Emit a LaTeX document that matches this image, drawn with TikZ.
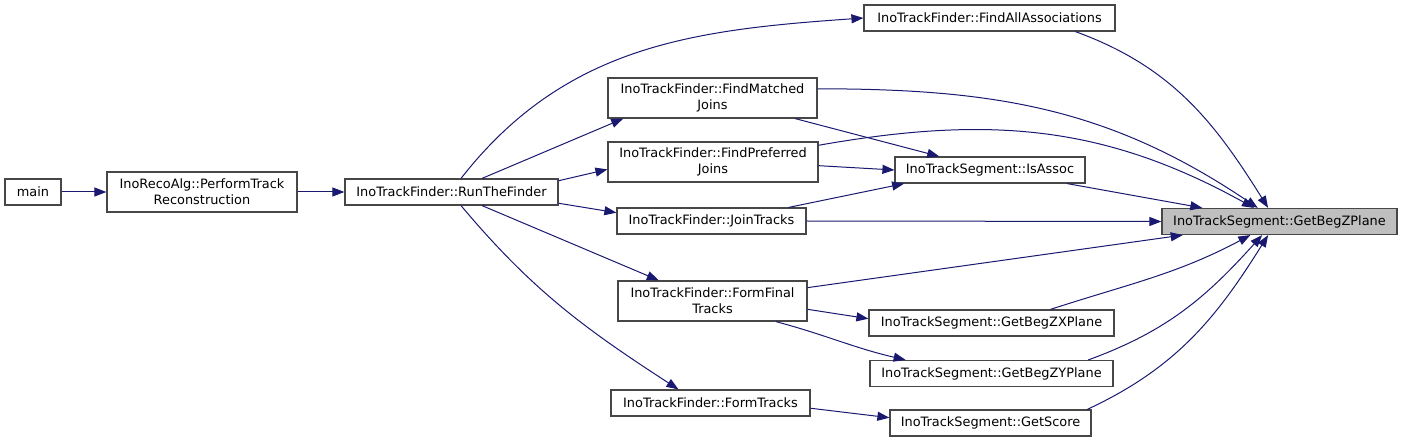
\documentclass[tikz,border=0pt]{standalone}
\usepackage{fontspec}
\setmainfont{DejaVu Sans}
\usetikzlibrary{arrows.meta}
\definecolor{edgeBlue}{HTML}{191970}
\definecolor{curGray}{HTML}{BFBFBF}

\begin{document}
\begin{tikzpicture}[x=1pt, y=1pt,
    fn/.style={draw=black!72, line width=1.2pt, align=center, inner sep=0pt,
        font=\fontsize{12.9}{16}\selectfont, minimum height=26pt},
    fntwo/.style={fn, minimum height=40pt},
    cur/.style={fn, fill=curGray},
    call/.style={edgeBlue, line width=1pt,
        -{Triangle[length=12pt, width=9pt]}},
]
\useasboundingbox (0,0) rectangle (1404,-443);

% Left chain
\node[fn, minimum width=56pt] (main) at (33,-192) {main};
\node[fntwo, minimum width=190pt] (perf) at (202,-192)
    {InoRecoAlg::PerformTrack\\Reconstruction};
\node[fn, minimum width=213pt] (run) at (451.5,-192)
    {InoTrackFinder::RunTheFinder};

% InoTrackFinder column
\node[fn, minimum width=251pt] (findall) at (989.5,-18)
    {InoTrackFinder::FindAllAssociations};
\node[fntwo, minimum width=209pt] (matched) at (712.5,-98)
    {InoTrackFinder::FindMatched\\Joins};
\node[fntwo, minimum width=210pt] (preferred) at (713,-162)
    {InoTrackFinder::FindPreferred\\Joins};
\node[fn, minimum width=189pt] (join) at (711.5,-221)
    {InoTrackFinder::JoinTracks};
\node[fntwo, minimum width=189pt] (formfinal) at (712.5,-301)
    {InoTrackFinder::FormFinal\\Tracks};
\node[fn, minimum width=199pt] (formtracks) at (710.5,-403)
    {InoTrackFinder::FormTracks};

% InoTrackSegment column
\node[fn, minimum width=190pt] (isassoc) at (990,-170)
    {InoTrackSegment::IsAssoc};
\node[fn, minimum width=245pt] (zx) at (991.5,-323)
    {InoTrackSegment::GetBegZXPlane};
\node[fn, minimum width=243pt] (zy) at (991.5,-373.5)
    {InoTrackSegment::GetBegZYPlane};
\node[fn, minimum width=201pt] (score) at (990.5,-423)
    {InoTrackSegment::GetScore};

% Function of the graph
\node[cur, minimum width=235pt] (zplane) at (1279.5,-221.5)
    {InoTrackSegment::GetBegZPlane};

% Calls out of the left chain
\draw[call] (main) -- (perf);
\draw[call] (perf) -- (run);
\draw[call] (run.55) to[out=52, in=184] (findall.west);
\draw[call] (run.24) -- (matched.193);
\draw[call] (run.6) -- (preferred.184);
\draw[call] (run.-6) -- (join.175);
\draw[call] (run.-24) -- (formfinal.159);
\draw[call] (run.-55) to[out=-50, in=147] (formtracks.157);

% Calls into IsAssoc and the other segment functions
\draw[call] (matched.-14) -- (isassoc.165);
\draw[call] (preferred.-2) -- (isassoc.west);
\draw[call] (join.10) -- (isassoc.189);
\draw[call] (formfinal.-5) -- (zx.178);
\draw[call] (formfinal.-18) to[out=-15, in=167] (zy.171);
\draw[call] (formtracks.-3) -- (score.177);

% Calls into GetBegZPlane
\draw[call] (findall.-9) to[out=-20, in=122] (zplane.130);
\draw[call] (matched.5) to[out=0, in=146] (zplane.148);
\draw[call] (preferred.9) to[out=10, in=151] (zplane.152);
\draw[call] (isassoc.-10) -- (zplane.170);
\draw[call] (join.east) -- (zplane.west);
\draw[call] (formfinal.8) -- (zplane.188);
\draw[call] (zx.13) to[out=18, in=208] (zplane.205);
\draw[call] (zy.8) to[out=20, in=228] (zplane.218);
\draw[call] (score.8) to[out=25, in=238] (zplane.230);

\end{tikzpicture}
\end{document}
